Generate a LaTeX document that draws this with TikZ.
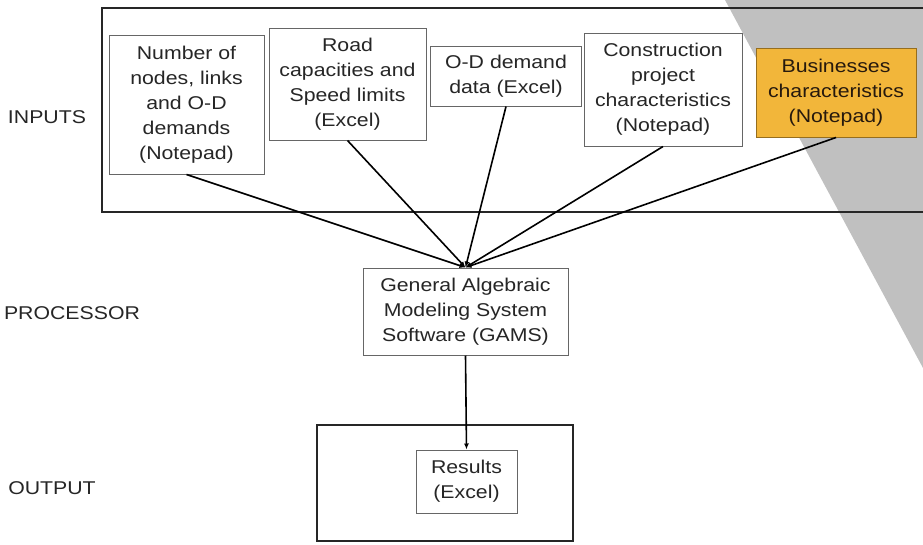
\documentclass[tikz,border=0pt]{standalone}
\usepackage{fontspec}
\setmainfont{Liberation Sans}[FakeStretch=1.15]
\usetikzlibrary{arrows.meta, positioning}
\definecolor{gold}{RGB}{242,182,58}
\definecolor{golddark}{RGB}{150,110,30}
\definecolor{greyfill}{RGB}{192,192,192}

\begin{document}
\begin{tikzpicture}[x=1pt, y=-1pt,
  inbox/.style={draw=black!60, line width=1pt, fill=white, align=center,
    inner sep=0pt, text=black!85, font=\fontsize{18.5}{25}\selectfont},
  lbl/.style={text=black!85, font=\fontsize{18.5}{25}\selectfont},
  frame/.style={draw=black!85, line width=2.5pt},
  conn/.style={-{Latex[length=6pt,width=5pt]}, line width=1.6pt}]
\useasboundingbox (0,0) rectangle (923,544);
% grey shading behind the right side
\fill[greyfill] (725,0) -- (923,0) -- (923,368) -- cycle;
% frames
\draw[frame] (930,8) -- (102,8) -- (102,212) -- (930,212);
\draw[frame] (317,425) rectangle (573,541);
% side labels
\node[lbl] (inputs) at (47,117) {INPUTS};
\node[lbl] (processor) at (72,313) {PROCESSOR};
\node[lbl] (output) at (52,488) {OUTPUT};
% input boxes
\node[inbox, minimum width=155pt, minimum height=139pt] (nodes) at (186.5,104.5)
  {Number of\\nodes, links\\and O-D\\demands\\(Notepad)};
\node[inbox, minimum width=157pt, minimum height=112pt] (roads) at (347.5,84)
  {Road\\capacities and\\Speed limits\\(Excel)};
\node[inbox, minimum width=151pt, minimum height=60pt] (demand) at (506,76)
  {O-D demand\\data (Excel)};
\node[inbox, minimum width=158pt, minimum height=113pt] (project) at (663,89.5)
  {Construction\\project\\characteristics\\(Notepad)};
\node[inbox, draw=golddark, fill=gold, text=black!80!brown,
  minimum width=160pt, minimum height=89pt] (business) at (836,92.5)
  {Businesses\\characteristics\\(Notepad)};
% processor and output
\node[inbox, minimum width=205pt, minimum height=87pt] (gams) at (465.5,311.5)
  {General Algebraic\\Modeling System\\Software (GAMS)};
\node[inbox, minimum width=101pt, minimum height=63pt] (results) at (466.5,481.5)
  {Results\\(Excel)};
% connectors
\foreach \src in {nodes,roads,demand,project,business}
  \draw[conn] (\src.south) -- (gams.north);
\draw[conn] (gams.south) -- (results.north);
\end{tikzpicture}
\end{document}
